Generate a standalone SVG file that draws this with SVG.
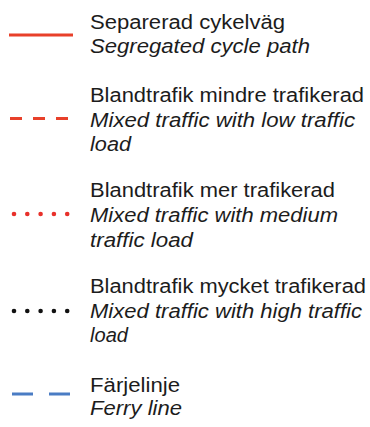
<svg xmlns="http://www.w3.org/2000/svg" width="370" height="427" viewBox="0 0 370 427">
<style>
text{font-family:"Liberation Sans",Arial,sans-serif;font-size:20px;fill:#1c1c1c}
.i{font-style:italic}
.red{stroke:#e8402a;stroke-width:3;fill:none}
.rd{fill:#e8302a}
.bd{fill:#111}
</style>
<rect width="370" height="427" fill="#fff"/>
<g id="segregated">
<line class="red" x1="9" y1="35" x2="73" y2="35"/>
<text x="90" y="29" textLength="195" lengthAdjust="spacingAndGlyphs">Separerad cykelväg</text>
<text class="i" x="90" y="53" textLength="220" lengthAdjust="spacingAndGlyphs">Segregated cycle path</text>
</g>
<g id="mixed-low">
<line class="red" x1="10" y1="118.5" x2="70" y2="118.5" stroke-dasharray="12 11"/>
<text x="90" y="102" textLength="274" lengthAdjust="spacingAndGlyphs">Blandtrafik mindre trafikerad</text>
<text class="i" x="90" y="127" textLength="265" lengthAdjust="spacingAndGlyphs">Mixed traffic with low traffic</text>
<text class="i" x="90" y="151" textLength="41" lengthAdjust="spacingAndGlyphs">load</text>
</g>
<g id="mixed-medium">
<circle class="rd" cx="14" cy="214" r="2.3"/>
<circle class="rd" cx="27.3" cy="214" r="2.3"/>
<circle class="rd" cx="40.6" cy="214" r="2.3"/>
<circle class="rd" cx="53.9" cy="214" r="2.3"/>
<circle class="rd" cx="67.2" cy="214" r="2.3"/>
<text x="90" y="197" textLength="245" lengthAdjust="spacingAndGlyphs">Blandtrafik mer trafikerad</text>
<text class="i" x="90" y="222" textLength="248" lengthAdjust="spacingAndGlyphs">Mixed traffic with medium</text>
<text class="i" x="90" y="247" textLength="103" lengthAdjust="spacingAndGlyphs">traffic load</text>
</g>
<g id="mixed-high">
<circle class="bd" cx="14" cy="311" r="2.3"/>
<circle class="bd" cx="27.3" cy="311" r="2.3"/>
<circle class="bd" cx="40.6" cy="311" r="2.3"/>
<circle class="bd" cx="53.9" cy="311" r="2.3"/>
<circle class="bd" cx="67.2" cy="311" r="2.3"/>
<text x="90" y="293" textLength="276" lengthAdjust="spacingAndGlyphs">Blandtrafik mycket trafikerad</text>
<text class="i" x="90" y="318" textLength="272" lengthAdjust="spacingAndGlyphs">Mixed traffic with high traffic</text>
<text class="i" x="90" y="342" textLength="38" lengthAdjust="spacingAndGlyphs">load</text>
</g>
<g id="ferry">
<line x1="12" y1="394" x2="70" y2="394" stroke="#4a7cc4" stroke-width="3" stroke-dasharray="21 16"/>
<text x="90" y="392" textLength="90" lengthAdjust="spacingAndGlyphs">Färjelinje</text>
<text class="i" x="90" y="415" textLength="92" lengthAdjust="spacingAndGlyphs">Ferry line</text>
</g>
<g id="connectors"/>
</svg>
